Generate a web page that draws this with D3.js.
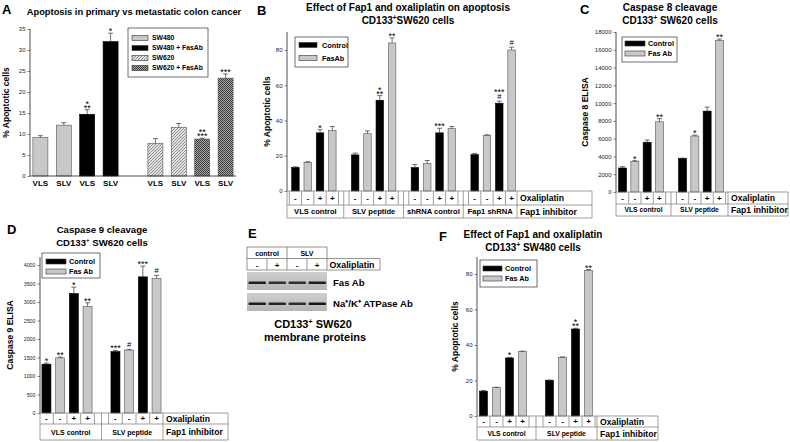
<!DOCTYPE html>
<html><head><meta charset="utf-8">
<script src="https://cdn.jsdelivr.net/npm/d3@7"></script>
<style>body{margin:0;background:#fff}svg{display:block}</style>
</head><body><svg id="c" width="790" height="442"></svg>
<script>
// ---------------- DATA ----------------
// Panel A
const A_groups = ["SW480", "SW620"];
const A_barLabels = ["VLS", "SLV", "VLS", "SLV"];
const A_series = ["SW480", "SW480 + FasAb", "SW620", "SW620 + FasAb"];
const A_seriesIdx = [[0, 0, 1, 1], [2, 2, 3, 3]];
const A_values = [[9.2, 12.1, 14.7, 32.0], [7.8, 11.6, 8.8, 23.3]];
const A_errors = [[0.4, 0.6, 1.1, 2.0], [1.1, 0.9, 0.2, 1.0]];
const A_marks = [["", "", "*\n**", "*"], ["", "", "**\n***", "***"]];
const A_ticks = [0, 5, 10, 15, 20, 25, 30, 35];

// Panel B
const B_groups = ["VLS control", "SLV peptide", "shRNA control", "Fap1 shRNA"];
const B_series = ["Control", "FasAb"];
const B_oxali = ["-", "-", "+", "+"];
const B_values = [[13.4, 16.3, 33.0, 34.4], [20.5, 32.5, 51.5, 84.0], [13.3, 15.5, 33.0, 35.4], [20.6, 31.5, 49.8, 80.0]];
const B_errors = [[0.3, 0.3, 1.8, 2.2], [1.0, 1.6, 2.6, 2.8], [1.7, 1.8, 2.6, 1.2], [0.7, 0.4, 1.2, 1.6]];
const B_marks = [["", "", "*", ""], ["", "", "*\n**", "**"], ["", "", "***", ""], ["", "", "***\n#", "#"]];
const B_ticks = [0, 20, 40, 60, 80];

// Panel C
const C_groups = ["VLS control", "SLV peptide"];
const C_series = ["Control", "Fas Ab"];
const C_oxali = ["-", "-", "+", "+"];
const C_values = [[2700, 3450, 5600, 7900], [3800, 6300, 9100, 17050]];
const C_errors = [[150, 80, 250, 350], [0, 100, 450, 150]];
const C_marks = [["", "*", "", "**"], ["", "*", "", "**"]];
const C_ticks = [0, 2000, 4000, 6000, 8000, 10000, 12000, 14000, 16000, 18000];

// Panel D
const D_groups = ["VLS control", "SLV peptide"];
const D_series = ["Control", "Fas Ab"];
const D_oxali = ["-", "-", "+", "+"];
const D_values = [[1320, 1490, 3230, 2880], [1660, 1700, 3680, 3640]];
const D_errors = [[30, 20, 170, 100], [30, 20, 290, 80]];
const D_marks = [["*", "**", "*", "**"], ["***", "#", "***", "#"]];
const D_ticks = [0, 500, 1000, 1500, 2000, 2500, 3000, 3500, 4000];

// Panel E
const E_treat = ["control", "SLV"];
const E_oxali = ["-", "+", "-", "+"];
const E_blots = ["Fas Ab", "Na\u207A/K\u207A ATPase Ab"];
const E_bandDark = [[0.9, 0.85, 0.85, 0.9], [0.9, 0.88, 0.85, 0.92]];

// Panel F
const F_groups = ["VLS control", "SLV peptide"];
const F_series = ["Control", "Fas Ab"];
const F_oxali = ["-", "-", "+", "+"];
const F_values = [[14.0, 16.2, 32.7, 36.5], [20.2, 33.0, 49.0, 82.0]];
const F_errors = [[0.4, 0, 0.3, 0], [0, 0.3, 0.4, 0.5]];
const F_marks = [["", "", "*", ""], ["", "", "*\n**", "**"]];
const F_ticks = [0, 20, 40, 60, 80];

// ---------------- DRAWING ----------------
const FONT = '"Liberation Sans", Arial, Helvetica, sans-serif';
const GREY = "#c8c8c8";
const svg = d3.select("#c").style("font-family", FONT);
svg.append("rect").attr("width", 790).attr("height", 442).attr("fill", "#fff");
const defs = svg.append("defs");

// patterns for panel A
const pl = defs.append("pattern").attr("id", "lightHatch").attr("patternUnits", "userSpaceOnUse").attr("width", 3).attr("height", 3);
pl.append("rect").attr("width", 3).attr("height", 3).attr("fill", "#e4e4e4");
[[0, 2], [1, 1], [2, 0]].forEach(([a, b]) => pl.append("rect").attr("x", a).attr("y", b).attr("width", 1).attr("height", 1).attr("fill", "#8a8a8a"));
const pd = defs.append("pattern").attr("id", "darkHatch").attr("patternUnits", "userSpaceOnUse").attr("width", 2).attr("height", 2);
pd.append("rect").attr("width", 2).attr("height", 2).attr("fill", "#a8a8a8");
pd.append("rect").attr("width", 1).attr("height", 1).attr("fill", "#3a3a3a");
pd.append("rect").attr("x", 1).attr("y", 1).attr("width", 1).attr("height", 1).attr("fill", "#3a3a3a");
const A_fills = [GREY, "#000", "url(#lightHatch)", "url(#darkHatch)"];
const CTRL_FILLS = ["#000", GREY];

function text(g, x, y, s, fs, opt = {}) {
  return g.append("text").attr("x", x).attr("y", y).text(s)
    .attr("font-size", fs).attr("font-weight", opt.bold === false ? "normal" : "bold")
    .attr("text-anchor", opt.anchor || "start").attr("fill", "#000");
}
function supText(g, x, y, segs, fs, anchor) {
  const t = g.append("text").attr("x", x).attr("y", y).attr("font-size", fs)
    .attr("font-weight", "bold").attr("text-anchor", anchor || "middle");
  segs.forEach(s => {
    if (s.startsWith("^")) t.append("tspan").attr("font-size", fs * 0.65).attr("dy", -fs * 0.4).text(s.slice(1));
    else {
      const ts = t.append("tspan").text(s);
      if (t.selectAll("tspan").size() > 1) ts.attr("dy", fs * 0.4);
    }
  });
  return t;
}
// significance marks: stacked lines in one text element
function drawMark(g, cx, topY, mark, fs) {
  if (!mark) return;
  const lines = mark.split("\n");
  let bottom = topY - 2;
  const bases = [];
  for (let i = lines.length - 1; i >= 0; i--) {
    const l = lines[i];
    if (l.includes("#")) {
      bases[i] = { y: bottom, fs: fs * 0.85 };
      bottom = bottom - 0.72 * fs * 0.85 - 1.5;
    } else {
      const base = bottom + 0.33 * fs;
      bases[i] = { y: base, fs: fs };
      bottom = base - 0.72 * fs - 0.6;
    }
  }
  const t = g.append("text").attr("text-anchor", "middle").attr("fill", "#000").attr("font-size", fs);
  lines.forEach((l, i) => {
    t.append("tspan").attr("x", cx).attr("y", bases[i].y).attr("font-size", bases[i].fs).text(l);
  });
}
function legend(g, L) {
  g.append("rect").attr("x", L.x).attr("y", L.y).attr("width", L.w).attr("height", L.h)
    .attr("fill", "#fff").attr("stroke", "#333").attr("stroke-width", 0.7);
  L.items.forEach((it, i) => {
    const yy = L.rows[i];
    g.append("rect").attr("x", L.sx).attr("y", yy - L.sh / 2).attr("width", L.sw).attr("height", L.sh)
      .attr("fill", it.fill).attr("stroke", "#333").attr("stroke-width", 0.6);
    text(g, L.tx, yy + L.fs * 0.36, it.label, L.fs);
  });
}

function barPanel(p) {
  const g = svg.append("g");
  const y = d3.scaleLinear().domain(p.yDomain).range(p.yRange);
  const y0 = y(0);
  const outer = d3.scaleBand().domain(d3.range(p.values.length)).range(p.outerRange).paddingInner(p.outerPad || 0);
  const bw = outer.bandwidth();
  const pi = 1 - p.barW / p.barStep;
  const po = (bw / p.barStep - 4 + pi) / 2;
  const inner = d3.scaleBand().domain(d3.range(4)).range([0, bw]).paddingInner(pi).paddingOuter(po);

  const ax = g.append("g").attr("transform", `translate(${p.axisX},0)`)
    .call(d3.axisLeft(y).tickValues(p.ticks).tickSize(2.5).tickPadding(2).tickFormat(d3.format("d")));
  ax.select(".domain").remove();
  ax.selectAll(".tick line").attr("stroke", "#333").attr("stroke-width", 0.6);
  ax.selectAll(".tick text").attr("font-size", p.tickFs).attr("font-family", FONT).attr("fill", "#222");
  g.append("line").attr("x1", p.axisX).attr("x2", p.axisX).attr("y1", y0).attr("y2", p.axisTop)
    .attr("stroke", "#222").attr("stroke-width", 0.8);
  text(g, 0, 0, p.ylabel, p.ylabelFs).attr("text-anchor", "middle")
    .attr("transform", `translate(${p.ylabelX},${(y0 + p.axisTop) / 2}) rotate(-90)`);

  p.values.forEach((vals, gi) => {
    vals.forEach((v, bi) => {
      const x = outer(gi) + inner(bi);
      const w = inner.bandwidth();
      const fill = p.fill(gi, bi);
      g.append("rect").attr("x", x).attr("y", y(v)).attr("width", w).attr("height", y0 - y(v))
        .attr("fill", fill).attr("stroke", fill === "#000" ? "#000" : "#555").attr("stroke-width", 0.6);
      const e = p.errors[gi][bi];
      const cx = x + w / 2;
      let top = y(v);
      if (e > 0) {
        top = y(v + e);
        g.append("line").attr("x1", cx).attr("x2", cx).attr("y1", y(v)).attr("y2", top).attr("stroke", "#333").attr("stroke-width", 0.7);
        g.append("line").attr("x1", cx - 2.5).attr("x2", cx + 2.5).attr("y1", top).attr("y2", top).attr("stroke", "#333").attr("stroke-width", 0.7);
      } else {
        g.append("line").attr("x1", cx - 2).attr("x2", cx + 2).attr("y1", top).attr("y2", top).attr("stroke", "#333").attr("stroke-width", 0.7);
      }
      drawMark(g, cx, top, p.marks[gi][bi], p.markFs);
    });
  });

  if (p.table) {
    const T = p.table;
    const [r0, r1, r2] = [y0, y0 + T.h1, y0 + T.h1 + T.h2];
    const ln = (x1, y1, x2, y2) => g.append("line").attr("x1", x1).attr("y1", y1).attr("x2", x2).attr("y2", y2)
      .attr("stroke", "#777").attr("stroke-width", 0.7);
    ln(p.axisX, r0, T.right, r0);
    ln(p.axisX, r1, T.right, r1);
    ln(p.axisX, r2, T.right, r2);
    ln(p.axisX, r0, p.axisX, r2);
    ln(T.labelX, r0, T.labelX, r2);
    ln(T.right, r0, T.right, r2);
    const n = p.values.length;
    p.values.forEach((vals, gi) => {
      const gl = gi === 0 ? p.axisX : outer(gi);
      const gr = gi === n - 1 ? T.labelX : outer(gi) + bw;
      if (gi > 0) ln(gl, r0, gl, r2);
      const cs = [];
      for (let bi = 0; bi < 4; bi++) {
        const cx = outer(gi) + inner(bi) + inner.bandwidth() / 2;
        cs.push(cx);
        text(g, cx, (r0 + r1) / 2 + T.signFs * 0.36, p.oxali[bi], T.signFs, { anchor: "middle" });
      }
      const bounds = [cs[0] - p.barStep / 2, ...cs.slice(0, 3).map((c, i) => (c + cs[i + 1]) / 2), cs[3] + p.barStep / 2];
      bounds.forEach(b => { if (b > gl + 1.5 && b < gr - 1.5) ln(b, r0, b, r1); });
      text(g, (gl + gr) / 2, (r1 + r2) / 2 + T.groupFs * 0.36, p.groups[gi], T.groupFs, { anchor: "middle" });
    });
    text(g, T.labelX + 3, (r0 + r1) / 2 + T.rowFs * 0.36, "Oxaliplatin", T.rowFs);
    text(g, T.labelX + 3, (r1 + r2) / 2 + T.rowFs * 0.36, "Fap1 inhibitor", T.rowFs);
  }
  return { g, y, outer, inner, y0 };
}

// ---- Panel A ----
text(svg, 2, 14, "A", 13);
text(svg, 134, 15, "Apoptosis in primary vs metastatic colon cancer", 9.3, { anchor: "middle" });
const PA = barPanel({
  values: A_values, errors: A_errors, marks: A_marks, groups: A_groups,
  yDomain: [0, 35], yRange: [176, 29], axisTop: 29, axisX: 30, ticks: A_ticks, tickFs: 6,
  outerRange: [32, 234], outerPad: 0.2435, barW: 15, barStep: 23.4,
  fill: (gi, bi) => A_fills[A_seriesIdx[gi][bi]], markFs: 9,
  ylabel: "% Apoptotic cells", ylabelX: 9, ylabelFs: 8.5
});
PA.g.append("line").attr("x1", 30).attr("x2", 236).attr("y1", 176).attr("y2", 176).attr("stroke", "#222").attr("stroke-width", 0.8);
A_values.forEach((vals, gi) => vals.forEach((v, bi) => {
  text(PA.g, PA.outer(gi) + PA.inner(bi) + PA.inner.bandwidth() / 2, 186, A_barLabels[bi], 8, { anchor: "middle" });
}));
legend(PA.g, { x: 128, y: 28, w: 80, h: 49, sx: 132, sw: 16, sh: 5, tx: 152, fs: 6.8, rows: [38, 48, 58, 68],
  items: A_series.map((s, i) => ({ label: s, fill: A_fills[i] })) });

// ---- Panel B ----
text(svg, 257, 15, "B", 13);
text(svg, 408, 11, "Effect of Fap1 and oxaliplatin on apoptosis", 10, { anchor: "middle" });
supText(svg, 408, 24, ["CD133", "^+", "SW620 cells"], 10);
const PB = barPanel({
  values: B_values, errors: B_errors, marks: B_marks, groups: B_groups, oxali: B_oxali,
  yDomain: [0, 80], yRange: [191, 50], axisTop: 32, axisX: 287, ticks: B_ticks, tickFs: 6,
  outerRange: [284, 523], barW: 7.5, barStep: 12.3,
  fill: (gi, bi) => CTRL_FILLS[bi % 2], markFs: 9,
  ylabel: "% Apoptotic cells", ylabelX: 270, ylabelFs: 8.5,
  table: { h1: 14, h2: 13, labelX: 517, right: 592, signFs: 8, groupFs: 7.6, rowFs: 8.6 }
});
legend(PB.g, { x: 295, y: 37, w: 53, h: 30, sx: 299, sw: 18, sh: 5, tx: 322, fs: 7.3, rows: [45, 58],
  items: B_series.map((s, i) => ({ label: s, fill: CTRL_FILLS[i] })) });

// ---- Panel C ----
text(svg, 580, 14, "C", 13);
text(svg, 670, 11, "Caspase 8 cleavage", 10, { anchor: "middle" });
supText(svg, 670, 24, ["CD133", "^+", " SW620 cells"], 10);
const PC = barPanel({
  values: C_values, errors: C_errors, marks: C_marks, groups: C_groups, oxali: C_oxali,
  yDomain: [0, 18000], yRange: [192, 32], axisTop: 32, axisX: 616, ticks: C_ticks, tickFs: 6,
  outerRange: [611, 731], barW: 8, barStep: 12.3,
  fill: (gi, bi) => CTRL_FILLS[bi % 2], markFs: 9,
  ylabel: "Caspase 8 ELISA", ylabelX: 588, ylabelFs: 8.5,
  table: { h1: 12, h2: 12, labelX: 728, right: 788, signFs: 8, groupFs: 6.8, rowFs: 8.6 }
});
legend(PC.g, { x: 622, y: 37, w: 55, h: 25, sx: 625, sw: 20, sh: 5, tx: 648, fs: 7.3, rows: [43.5, 53.5],
  items: C_series.map((s, i) => ({ label: s, fill: CTRL_FILLS[i] })) });

// ---- Panel D ----
text(svg, 7, 234, "D", 13);
text(svg, 102, 233, "Caspase 9 cleavage", 9.6, { anchor: "middle" });
supText(svg, 102, 246, ["CD133", "^+", " SW620 cells"], 9.6);
const PD = barPanel({
  values: D_values, errors: D_errors, marks: D_marks, groups: D_groups, oxali: D_oxali,
  yDomain: [0, 4000], yRange: [413, 265], axisTop: 257, axisX: 40, ticks: D_ticks, tickFs: 5.3,
  outerRange: [32.5, 170.5], barW: 9, barStep: 13.7,
  fill: (gi, bi) => CTRL_FILLS[bi % 2], markFs: 9,
  ylabel: "Caspase 9 ELISA", ylabelX: 13, ylabelFs: 8.5,
  table: { h1: 11, h2: 16, labelX: 163, right: 228, signFs: 8, groupFs: 7, rowFs: 8.6 }
});
legend(PD.g, { x: 42, y: 253, w: 58, h: 25, sx: 46, sw: 20, sh: 5, tx: 69, fs: 7.3, rows: [261.5, 271.5],
  items: D_series.map((s, i) => ({ label: s, fill: CTRL_FILLS[i] })) });

// ---- Panel E ----
const gE = svg.append("g");
text(gE, 248, 238, "E", 13);
const ex = d3.scaleBand().domain(d3.range(4)).range([247, 327]);
const eln = (x1, y1, x2, y2) => gE.append("line").attr("x1", x1).attr("y1", y1).attr("x2", x2).attr("y2", y2).attr("stroke", "#666").attr("stroke-width", 0.7);
eln(247, 247, 327, 247); eln(247, 258.5, 380, 258.5); eln(247, 270, 380, 270);
eln(247, 247, 247, 270); eln(327, 247, 327, 270); eln(380, 258.5, 380, 270); eln(287, 247, 287, 270);
[1, 3].forEach(i => eln(ex(i), 258.5, ex(i), 270));
E_treat.forEach((t, i) => text(gE, ex(i * 2) + ex.bandwidth(), 256, t, 7, { anchor: "middle" }));
E_oxali.forEach((o, i) => text(gE, ex(i) + ex.bandwidth() / 2, 267.5, o, 8, { anchor: "middle" }));
text(gE, 329.5, 267.6, "Oxaliplatin", 8.8);
const blotY = [272, 293];
const eg = defs.append("linearGradient").attr("id", "blotBg").attr("x1", 0).attr("x2", 0).attr("y1", 0).attr("y2", 1);
eg.append("stop").attr("offset", "0%").attr("stop-color", "#cfcfcf");
eg.append("stop").attr("offset", "100%").attr("stop-color", "#b5b5b5");
E_blots.forEach((b, k) => {
  gE.append("rect").attr("x", 247).attr("y", blotY[k]).attr("width", 80).attr("height", 18).attr("fill", "url(#blotBg)");
  E_bandDark[k].forEach((d, i) => {
    gE.append("rect").attr("x", ex(i) + 1.5).attr("y", blotY[k] + 9.5).attr("width", ex.bandwidth() - 2.5).attr("height", 2.6)
      .attr("rx", 1.2).attr("fill", d3.interpolateGreys(d));
  });
  text(gE, 333, blotY[k] + 13.5, b, 9.6);
});
supText(gE, 313, 328, ["CD133", "^+", " SW620"], 11);
text(gE, 315, 341, "membrane proteins", 11, { anchor: "middle" });

// ---- Panel F ----
text(svg, 439, 241, "F", 13);
text(svg, 533, 238, "Effect of Fap1 and oxaliplatin", 10, { anchor: "middle" });
supText(svg, 533, 251, ["CD133", "^+", " SW480 cells"], 10);
const PF = barPanel({
  values: F_values, errors: F_errors, marks: F_marks, groups: F_groups, oxali: F_oxali,
  yDomain: [0, 80], yRange: [416, 274], axisTop: 257, axisX: 477, ticks: F_ticks, tickFs: 6,
  outerRange: [470, 602], barW: 8, barStep: 13,
  fill: (gi, bi) => CTRL_FILLS[bi % 2], markFs: 9,
  ylabel: "% Apoptotic cells", ylabelX: 458, ylabelFs: 8.5,
  table: { h1: 11, h2: 13, labelX: 597, right: 658, signFs: 8, groupFs: 6.8, rowFs: 8.6 }
});
legend(PF.g, { x: 480, y: 260, w: 57, h: 27, sx: 483, sw: 19, sh: 5, tx: 505, fs: 7.3, rows: [268.5, 278.5],
  items: F_series.map((s, i) => ({ label: s, fill: CTRL_FILLS[i] })) });
</script></body></html>
